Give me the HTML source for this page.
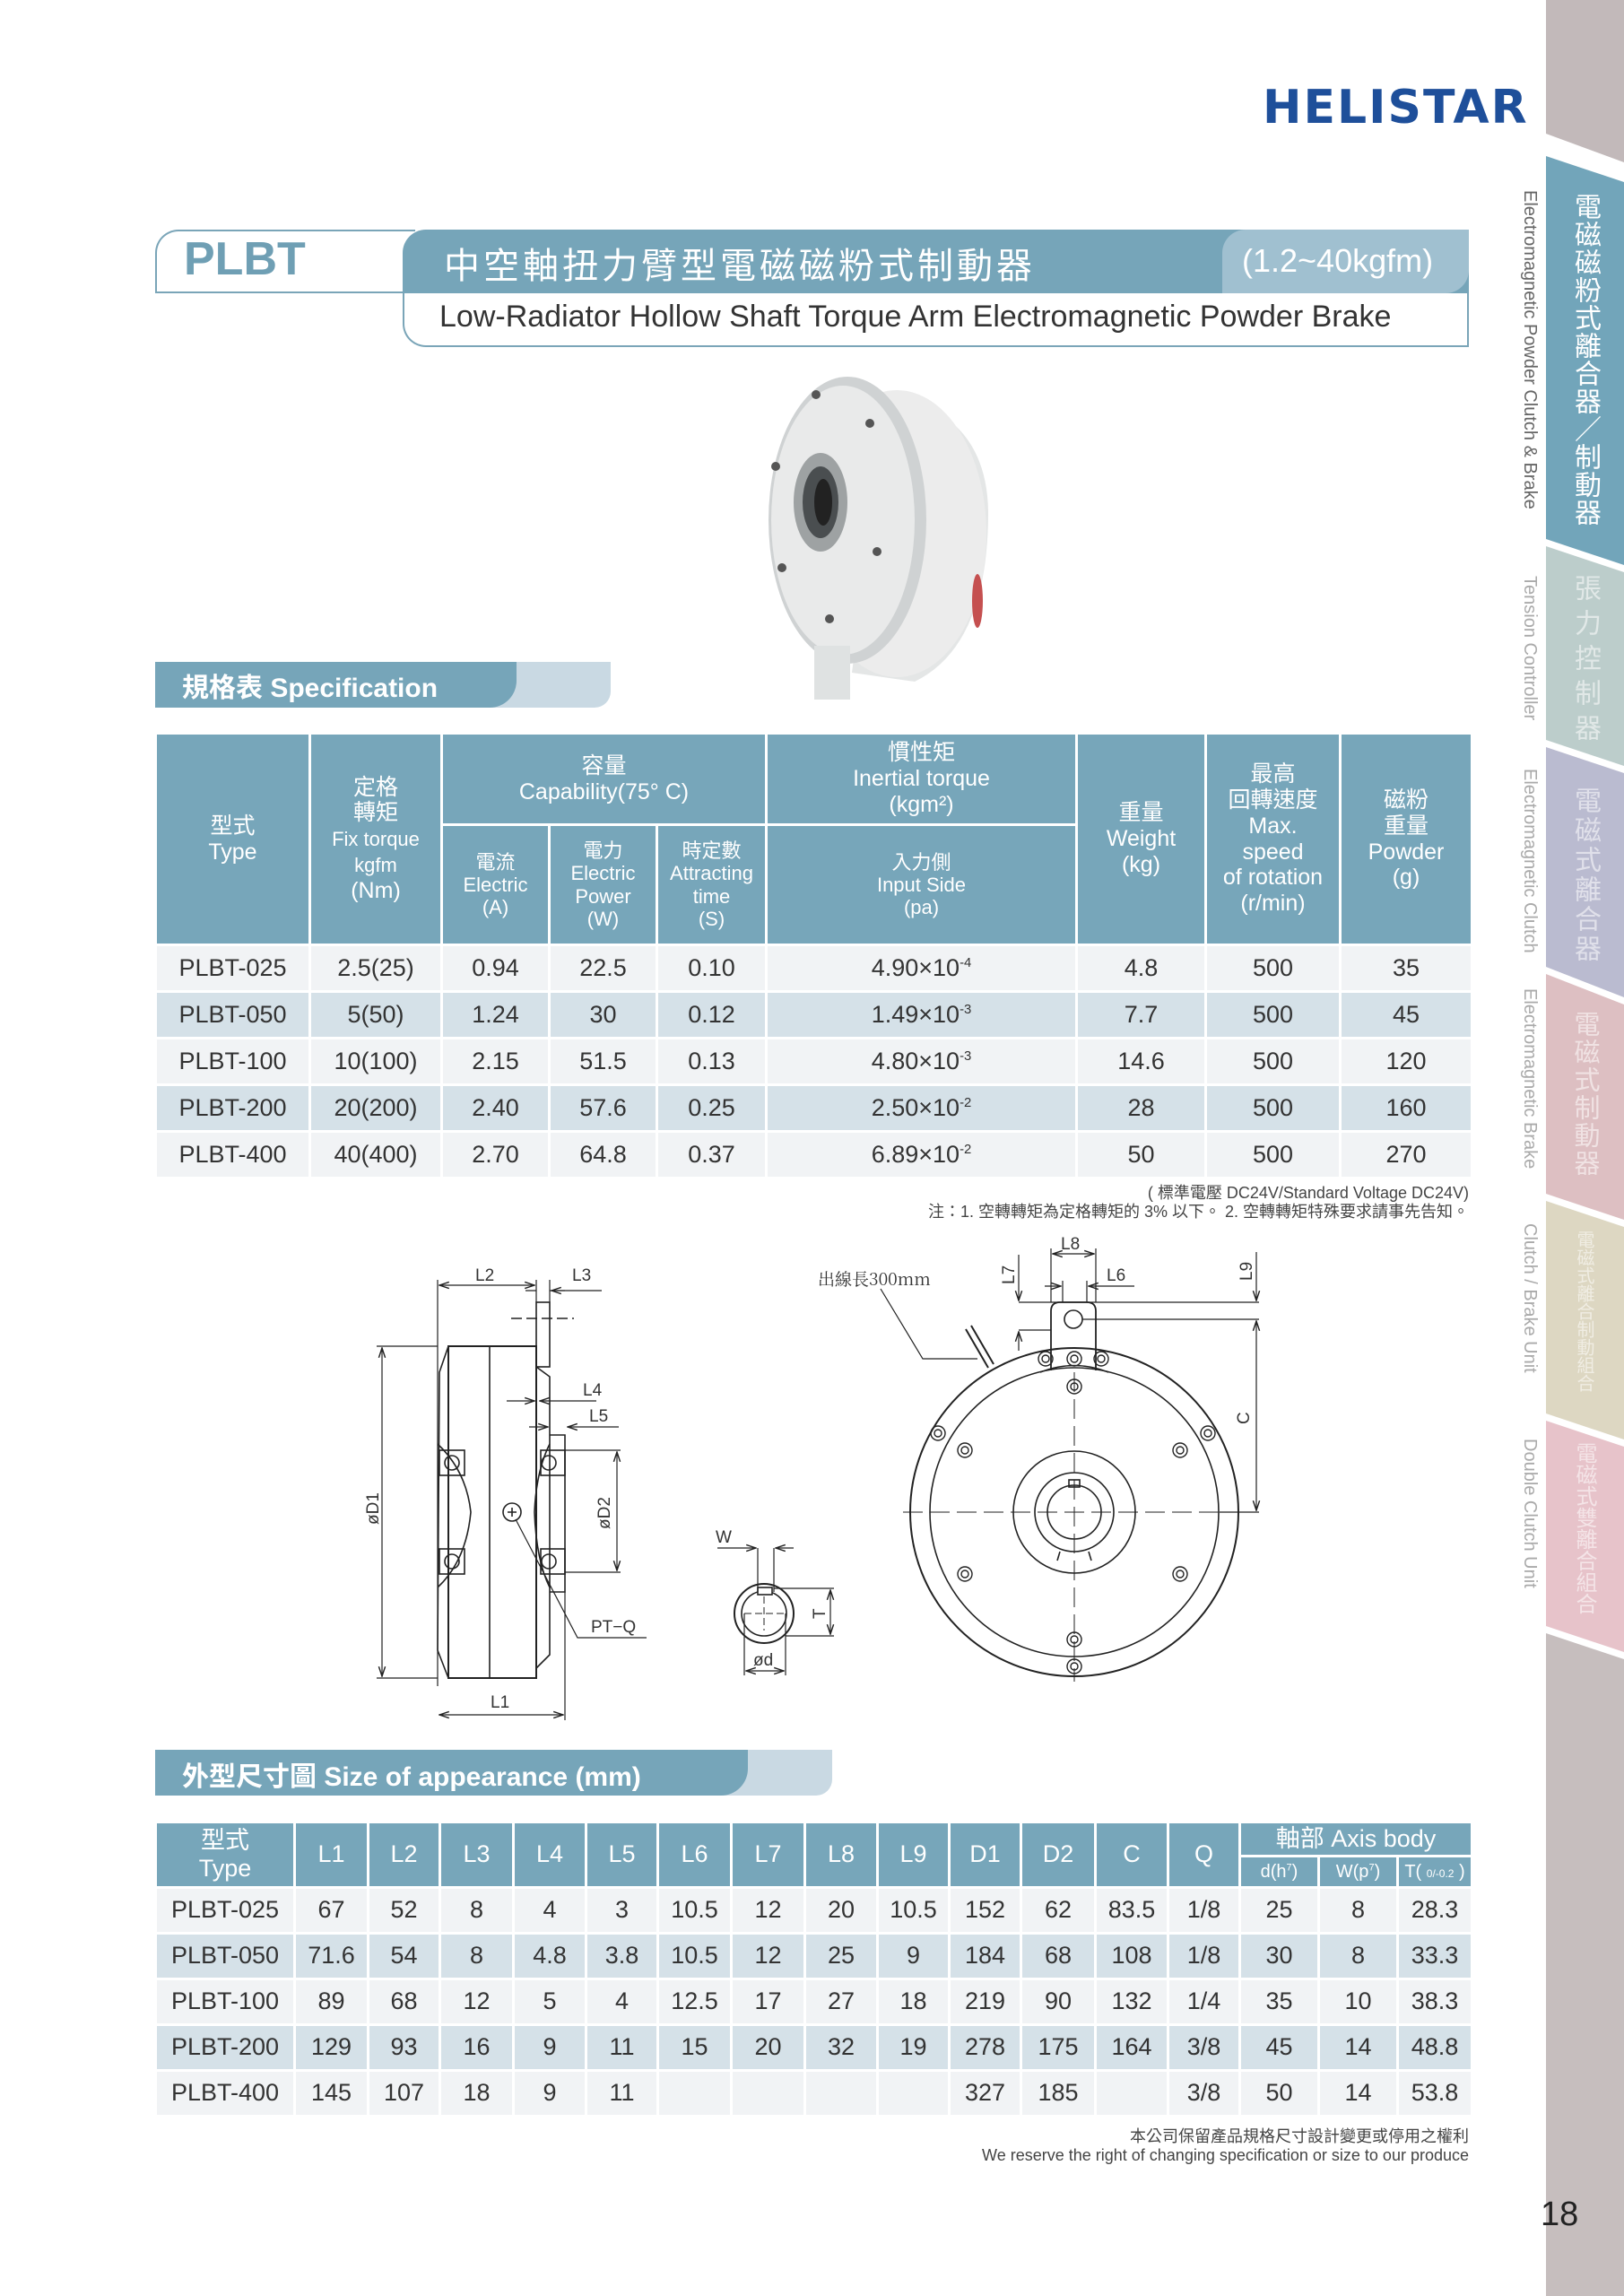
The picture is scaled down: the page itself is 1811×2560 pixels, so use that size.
<!DOCTYPE html>
<html><head><meta charset="utf-8">
<style>
*{margin:0;padding:0;box-sizing:border-box}
body{width:1811px;height:2560px;position:relative;background:#fff;font-family:"Liberation Sans","Noto Sans CJK TC",sans-serif;overflow:hidden;color:#333}
.abs{position:absolute}
table{border-collapse:collapse;table-layout:fixed;position:absolute}
td{border:3px solid #fff;text-align:center;vertical-align:middle;padding:0;line-height:1.15}
.h td{background:#77a6ba;color:#fff}
.r1 td{background:#f1f3f5}
.r2 td{background:#d5e1e8}
.vt{writing-mode:vertical-rl;position:absolute;white-space:nowrap}
sup{font-size:0.55em}
</style></head><body>

<!-- sidebar -->
<svg class="abs" style="left:0;top:0" width="1811" height="2560">
<polygon points="1724,0 1811,0 1811,181 1724,149" fill="#c2b9ba"/>
<polygon points="1724,174 1811,203 1811,630 1724,601" fill="#72a5ba"/>
<polygon points="1724,609 1811,638 1811,854 1724,825" fill="#bccdcb"/>
<polygon points="1724,833 1811,862 1811,1112 1724,1078" fill="#babbd0"/>
<polygon points="1724,1086 1811,1120 1811,1360 1724,1331" fill="#ddbfc2"/>
<polygon points="1724,1339 1811,1368 1811,1605 1724,1576" fill="#ddd7c2"/>
<polygon points="1724,1584 1811,1613 1811,1842 1724,1813" fill="#e7c3ca"/>
<polygon points="1724,1821 1811,1850 1811,2560 1724,2560" fill="#c6bebe"/>
</svg>
<div class="vt" style="left:1750px;top:215px;font-size:30px;color:#fff;line-height:34px;letter-spacing:1px">電磁磁粉式離合器／制動器</div>
<div class="vt" style="left:1750px;top:640px;font-size:30px;color:rgba(255,255,255,.55);line-height:34px;letter-spacing:9px">張力控制器</div>
<div class="vt" style="left:1750px;top:877px;font-size:30px;color:rgba(255,255,255,.55);line-height:34px;letter-spacing:3px">電磁式離合器</div>
<div class="vt" style="left:1750px;top:1127px;font-size:29px;color:rgba(255,255,255,.55);line-height:34px;letter-spacing:2px">電磁式制動器</div>
<div class="vt" style="left:1754px;top:1372px;font-size:20px;color:rgba(255,255,255,.55);line-height:24px">電磁式離合制動組合</div>
<div class="vt" style="left:1752px;top:1608px;font-size:24px;color:rgba(255,255,255,.55);line-height:28px">電磁式雙離合組合</div>

<div class="vt" style="left:1694px;top:212px;font-size:20px;color:#666">Electromagnetic Powder Clutch &amp; Brake</div>
<div class="vt" style="left:1694px;top:642px;font-size:20px;color:#aaa">Tension Controller</div>
<div class="vt" style="left:1694px;top:857px;font-size:20px;color:#aaa">Electromagnetic Clutch</div>
<div class="vt" style="left:1694px;top:1102px;font-size:20px;color:#aaa">Electromagnetic Brake</div>
<div class="vt" style="left:1694px;top:1364px;font-size:20px;color:#aaa">Clutch / Brake Unit</div>
<div class="vt" style="left:1694px;top:1604px;font-size:20px;color:#aaa">Double Clutch Unit</div>

<!-- logo -->
<div class="abs" style="left:1408px;top:90px;font-size:52px;font-weight:900;color:#1e4f9a;letter-spacing:2px;font-family:'DejaVu Sans','Liberation Sans',sans-serif">HELISTAR</div>

<!-- header -->
<div class="abs" style="left:173px;top:256px;width:290px;height:71px;border:2px solid #7aa5b8;border-right:none;border-radius:26px 0 0 0"></div>
<div class="abs" style="left:205px;top:259px;font-size:52px;font-weight:bold;color:#6f9fb4">PLBT</div>
<div class="abs" style="left:449px;top:327px;width:1189px;height:60px;border:2px solid #7aa5b8;border-top:none;border-radius:0 0 0 26px"></div>
<div class="abs" style="left:449px;top:256px;width:1189px;height:71px;background:#76a5b9;border-radius:26px 0 0 0"></div>
<div class="abs" style="left:1363px;top:256px;width:275px;height:71px;background:#a0c0d0;border-radius:26px 0 26px 0"></div>
<div class="abs" style="left:495px;top:264px;font-size:40px;color:#fff;letter-spacing:4px">中空軸扭力臂型電磁磁粉式制動器</div>
<div class="abs" style="left:1385px;top:270px;font-size:36px;color:#fff">(1.2~40kgfm)</div>
<div class="abs" style="left:490px;top:334px;font-size:34px;color:#333">Low-Radiator Hollow Shaft Torque Arm Electromagnetic Powder Brake</div>

<!-- product photo -->
<svg class="abs" style="left:840px;top:390px" width="290" height="400">
<path d="M150 50 Q260 70 262 180 Q262 330 180 370 L110 360 Z" fill="#e4e6e6"/>
<ellipse cx="160" cy="205" rx="100" ry="160" fill="#ececec"/>
<ellipse cx="250" cy="280" rx="6" ry="30" fill="#c55050"/>
<ellipse cx="105" cy="190" rx="88" ry="160" fill="#cfd2d3"/>
<ellipse cx="100" cy="190" rx="80" ry="150" fill="#e9eaea"/>
<ellipse cx="75" cy="170" rx="30" ry="55" fill="#9ea2a3"/>
<ellipse cx="75" cy="170" rx="20" ry="40" fill="#4a4e50"/>
<ellipse cx="78" cy="170" rx="10" ry="26" fill="#222"/>
<circle cx="70" cy="50" r="5" fill="#555"/><circle cx="130" cy="82" r="5" fill="#555"/>
<circle cx="25" cy="130" r="5" fill="#555"/><circle cx="138" cy="225" r="5" fill="#555"/>
<circle cx="32" cy="243" r="5" fill="#555"/><circle cx="85" cy="300" r="5" fill="#555"/>
<rect x="68" y="330" width="40" height="60" fill="#dfe2e2"/>
</svg>

<!-- spec tab -->
<div class="abs" style="left:173px;top:738px;width:508px;height:51px;background:#c9d9e3;border-radius:0 0 18px 0"></div>
<div class="abs" style="left:173px;top:738px;width:403px;height:51px;background:#76a5b9;border-radius:0 0 30px 0"></div>
<div class="abs" style="left:203px;top:742px;font-size:30px;color:#fff;font-weight:bold">規格表 Specification</div>

<!-- spec table -->
<table style="left:172px;top:816px;width:1468px;font-size:25px">
<colgroup><col style="width:172px"><col style="width:147px"><col style="width:120px"><col style="width:120px"><col style="width:122px"><col style="width:346px"><col style="width:144px"><col style="width:150px"><col style="width:147px"></colgroup>
<tr class="h" style="height:102px"><td rowspan="2">型式<br>Type</td><td rowspan="2">定格<br>轉矩<br><span style="font-size:22px">Fix torque<br>kgfm</span><br>(Nm)</td><td colspan="3">容量<br>Capability(75° C)</td><td>慣性矩<br>Inertial torque<br>(kgm²)</td><td rowspan="2">重量<br>Weight<br>(kg)</td><td rowspan="2">最高<br>回轉速度<br>Max.<br>speed<br>of rotation<br>(r/min)</td><td rowspan="2">磁粉<br>重量<br>Powder<br>(g)</td></tr>
<tr class="h" style="height:134px;font-size:22px"><td>電流<br>Electric<br>(A)</td><td>電力<br>Electric<br>Power<br>(W)</td><td>時定數<br>Attracting<br>time<br>(S)</td><td>入力側<br>Input Side<br>(pa)</td></tr>
<tr class="r1" style="height:52px;font-size:27px"><td>PLBT-025</td><td>2.5(25)</td><td>0.94</td><td>22.5</td><td>0.10</td><td>4.90×10<sup>-4</sup></td><td>4.8</td><td>500</td><td>35</td></tr>
<tr class="r2" style="height:52px;font-size:27px"><td>PLBT-050</td><td>5(50)</td><td>1.24</td><td>30</td><td>0.12</td><td>1.49×10<sup>-3</sup></td><td>7.7</td><td>500</td><td>45</td></tr>
<tr class="r1" style="height:52px;font-size:27px"><td>PLBT-100</td><td>10(100)</td><td>2.15</td><td>51.5</td><td>0.13</td><td>4.80×10<sup>-3</sup></td><td>14.6</td><td>500</td><td>120</td></tr>
<tr class="r2" style="height:52px;font-size:27px"><td>PLBT-200</td><td>20(200)</td><td>2.40</td><td>57.6</td><td>0.25</td><td>2.50×10<sup>-2</sup></td><td>28</td><td>500</td><td>160</td></tr>
<tr class="r1" style="height:52px;font-size:27px"><td>PLBT-400</td><td>40(400)</td><td>2.70</td><td>64.8</td><td>0.37</td><td>6.89×10<sup>-2</sup></td><td>50</td><td>500</td><td>270</td></tr>
</table>
<div class="abs" style="right:173px;top:1320px;font-size:18px;color:#444;text-align:right;line-height:21px">( 標準電壓 DC24V/Standard Voltage DC24V)<br>注：1. 空轉轉矩為定格轉矩的 3% 以下。 2. 空轉轉矩特殊要求請事先告知。</div>

<!-- drawings -->
<svg class="abs" style="left:0;top:0" width="1700" height="1930" font-family="Liberation Sans, sans-serif" font-size="19" fill="none" stroke="#222" stroke-width="1.6">
<defs><marker id="a" markerWidth="10" markerHeight="8" refX="9" refY="4" orient="auto-start-reverse"><path d="M0,1 L9,4 L0,7" fill="none" stroke="#222" stroke-width="1.2"/></marker></defs>
<rect x="500" y="1501" width="98" height="370" stroke-width="2"/>
<line x1="546" y1="1501" x2="546" y2="1871"/>
<path d="M500 1501 L490 1530 L488 1840 L500 1871" />
<path d="M598 1524 L613 1535 L613 1845 L598 1860"/>
<path d="M613 1600 L630 1600 L630 1775 L613 1775"/>
<rect x="598" y="1452" width="15" height="72"/>
<line x1="570" y1="1470" x2="640" y2="1470" stroke-dasharray="12,5"/>
<path d="M488 1610 Q520 1640 525 1686 Q520 1740 488 1770"/>
<path d="M613 1610 Q598 1640 596 1686 Q598 1740 613 1770"/>
<rect x="490" y="1617" width="28" height="28"/><circle cx="504" cy="1631" r="8"/>
<rect x="490" y="1727" width="28" height="28"/><circle cx="504" cy="1741" r="8"/>
<rect x="603" y="1617" width="27" height="28"/><circle cx="612" cy="1631" r="8"/>
<rect x="603" y="1727" width="27" height="28"/><circle cx="612" cy="1741" r="8"/>
<circle cx="571" cy="1686" r="10"/><path d="M566 1686h10M571 1681v10"/>
<line x1="426" y1="1503" x2="426" y2="1869" marker-start="url(#a)" marker-end="url(#a)" stroke-width="1.2"/>
<path d="M420 1501H488M420 1871H488" stroke-width="1.2"/>
<line x1="490" y1="1433" x2="596" y2="1433" marker-start="url(#a)" marker-end="url(#a)" stroke-width="1.2"/>
<path d="M488 1427V1880M598 1427V1452M613 1427V1452" stroke-width="1.2"/>
<path d="M586 1439 L598 1439 M613 1439 L671 1439" stroke-width="1.2"/>
<line x1="630" y1="1439" x2="615" y2="1439" marker-end="url(#a)" stroke-width="1.2"/>
<line x1="565" y1="1562" x2="596" y2="1562" marker-end="url(#a)" stroke-width="1.2"/>
<line x1="665" y1="1562" x2="602" y2="1562" marker-end="url(#a)" stroke-width="1.2"/>
<line x1="590" y1="1591" x2="611" y2="1591" marker-end="url(#a)" stroke-width="1.2"/>
<line x1="690" y1="1591" x2="633" y2="1591" marker-end="url(#a)" stroke-width="1.2"/>
<path d="M630 1617H692M630 1753H692" stroke-width="1.2"/>
<line x1="688" y1="1619" x2="688" y2="1751" marker-start="url(#a)" marker-end="url(#a)" stroke-width="1.2"/>
<line x1="490" y1="1912" x2="628" y2="1912" marker-start="url(#a)" marker-end="url(#a)" stroke-width="1.2"/>
<path d="M630 1775V1918" stroke-width="1.2"/>
<path d="M575 1694 L644 1826 H721" stroke-width="1.2"/>
<circle cx="852" cy="1799" r="33" stroke-width="2"/>
<circle cx="852" cy="1799" r="25"/>
<rect x="845" y="1770" width="16" height="8" fill="#fff"/>
<path d="M830 1799h44M852 1780v38" stroke-dasharray="8,4" stroke-width="1"/>
<path d="M845 1726V1775M863 1726V1775" stroke-width="1.2"/>
<line x1="800" y1="1726" x2="843" y2="1726" marker-end="url(#a)" stroke-width="1.2"/>
<line x1="885" y1="1726" x2="865" y2="1726" marker-end="url(#a)" stroke-width="1.2"/>
<path d="M863 1771H930M876 1824H930" stroke-width="1.2"/>
<line x1="926" y1="1773" x2="926" y2="1822" marker-start="url(#a)" marker-end="url(#a)" stroke-width="1.2"/>
<path d="M830 1799V1868M876 1799V1868" stroke-width="1.2"/>
<line x1="832" y1="1863" x2="874" y2="1863" marker-start="url(#a)" marker-end="url(#a)" stroke-width="1.2"/>
<circle cx="1198" cy="1686" r="183" stroke-width="2"/>
<circle cx="1198" cy="1686" r="161"/>
<circle cx="1198" cy="1686" r="68"/>
<circle cx="1198" cy="1686" r="44"/>
<circle cx="1198" cy="1686" r="30"/>
<rect x="1192" y="1650" width="12" height="8"/>
<path d="M1182 1730 l-3 10 M1214 1730 l3 10"/>
<path d="M1172 1528 V1462 Q1172 1452 1182 1452 H1212 Q1222 1452 1222 1462 V1528" stroke-width="1.8"/>
<path d="M1160 1530 Q1198 1515 1236 1530" />
<circle cx="1197" cy="1471" r="10"/>
<g stroke-width="1.4">
<circle cx="1166" cy="1515" r="8"/><circle cx="1166" cy="1515" r="4"/>
<circle cx="1198" cy="1515" r="8"/><circle cx="1198" cy="1515" r="4"/>
<circle cx="1228" cy="1515" r="8"/><circle cx="1228" cy="1515" r="4"/>
<circle cx="1198" cy="1546" r="8"/><circle cx="1198" cy="1546" r="4"/>
<circle cx="1198" cy="1828" r="8"/><circle cx="1198" cy="1828" r="4"/>
<circle cx="1198" cy="1858" r="8"/><circle cx="1198" cy="1858" r="4"/>
<circle cx="1046" cy="1598" r="8"/><circle cx="1046" cy="1598" r="4"/>
<circle cx="1347" cy="1598" r="8"/><circle cx="1347" cy="1598" r="4"/>
<circle cx="1076" cy="1617" r="8"/><circle cx="1076" cy="1617" r="4"/>
<circle cx="1316" cy="1617" r="8"/><circle cx="1316" cy="1617" r="4"/>
<circle cx="1076" cy="1755" r="8"/><circle cx="1076" cy="1755" r="4"/>
<circle cx="1316" cy="1755" r="8"/><circle cx="1316" cy="1755" r="4"/>
</g>
<path d="M1007 1686H1360M1198 1530V1875" stroke-dasharray="22,8" stroke-width="1"/>
<path d="M1077 1482 L1102 1525 M1083 1478 L1108 1521" stroke-width="2"/>
<path d="M982 1437 L1029 1515 H1090" stroke-width="1.2"/>
<path d="M1172 1392V1452M1222 1392V1452" stroke-width="1.2"/>
<line x1="1174" y1="1398" x2="1220" y2="1398" marker-start="url(#a)" marker-end="url(#a)" stroke-width="1.2"/>
<path d="M1185 1428V1452M1212 1428V1452" stroke-width="1.2"/>
<line x1="1165" y1="1434" x2="1183" y2="1434" marker-end="url(#a)" stroke-width="1.2"/>
<line x1="1265" y1="1434" x2="1214" y2="1434" marker-end="url(#a)" stroke-width="1.2"/>
<path d="M1136 1452H1404M1136 1483H1172M1207 1471H1404" stroke-width="1.2"/>
<line x1="1136" y1="1399" x2="1136" y2="1450" marker-end="url(#a)" stroke-width="1.2"/>
<line x1="1136" y1="1506" x2="1136" y2="1485" marker-end="url(#a)" stroke-width="1.2"/>
<line x1="1401" y1="1396" x2="1401" y2="1450" marker-end="url(#a)" stroke-width="1.2"/>
<line x1="1401" y1="1473" x2="1401" y2="1684" marker-start="url(#a)" marker-end="url(#a)" stroke-width="1.2"/>
<path d="M1360 1686H1404" stroke-width="1.2"/>
<g fill="#333" stroke="none" font-size="19">
<text x="530" y="1428">L2</text><text x="638" y="1428">L3</text>
<text x="650" y="1556">L4</text><text x="657" y="1585">L5</text>
<text x="547" y="1904">L1</text>
<text x="659" y="1820">PT−Q</text>
<text transform="translate(422,1700) rotate(-90)">øD1</text>
<text transform="translate(680,1705) rotate(-90)">øD2</text>
<text x="798" y="1720">W</text>
<text x="840" y="1857">ød</text>
<text transform="translate(920,1805) rotate(-90)">T</text>
<text x="1183" y="1393">L8</text>
<text x="1234" y="1428">L6</text>
<text transform="translate(1131,1432) rotate(-90)">L7</text>
<text transform="translate(1396,1428) rotate(-90)">L9</text>
<text transform="translate(1393,1588) rotate(-90)">C</text>
<text x="912" y="1433" font-family="Noto Serif CJK SC, serif" font-size="19">出線長300mm</text>
</g>
</svg>

<!-- size tab -->
<div class="abs" style="left:173px;top:1951px;width:755px;height:51px;background:#c9d9e3;border-radius:0 0 18px 0"></div>
<div class="abs" style="left:173px;top:1951px;width:661px;height:51px;background:#76a5b9;border-radius:0 0 30px 0"></div>
<div class="abs" style="left:203px;top:1956px;font-size:30px;color:#fff;font-weight:bold">外型尺寸圖 Size of appearance (mm)</div>

<!-- size table -->
<table style="left:172px;top:2030px;width:1468px;font-size:27px">
<colgroup><col style="width:155px"><col style="width:82px"><col style="width:80px"><col style="width:82px"><col style="width:81px"><col style="width:80px"><col style="width:82px"><col style="width:82px"><col style="width:81px"><col style="width:80px"><col style="width:80px"><col style="width:83px"><col style="width:81px"><col style="width:80px"><col style="width:88px"><col style="width:88px"><col style="width:83px"></colgroup>
<tr class="h" style="height:38px"><td rowspan="2">型式<br>Type</td><td rowspan="2">L1</td><td rowspan="2">L2</td><td rowspan="2">L3</td><td rowspan="2">L4</td><td rowspan="2">L5</td><td rowspan="2">L6</td><td rowspan="2">L7</td><td rowspan="2">L8</td><td rowspan="2">L9</td><td rowspan="2">D1</td><td rowspan="2">D2</td><td rowspan="2">C</td><td rowspan="2">Q</td><td colspan="3">軸部 Axis body</td></tr>
<tr class="h" style="height:35px;font-size:20px"><td>d(h<sup>7</sup>)</td><td>W(p<sup>7</sup>)</td><td>T( <span style="font-size:12px">0/-0.2</span> )</td></tr>
<tr class="r1" style="height:51px"><td>PLBT-025</td><td>67</td><td>52</td><td>8</td><td>4</td><td>3</td><td>10.5</td><td>12</td><td>20</td><td>10.5</td><td>152</td><td>62</td><td>83.5</td><td>1/8</td><td>25</td><td>8</td><td>28.3</td></tr>
<tr class="r2" style="height:51px"><td>PLBT-050</td><td>71.6</td><td>54</td><td>8</td><td>4.8</td><td>3.8</td><td>10.5</td><td>12</td><td>25</td><td>9</td><td>184</td><td>68</td><td>108</td><td>1/8</td><td>30</td><td>8</td><td>33.3</td></tr>
<tr class="r1" style="height:51px"><td>PLBT-100</td><td>89</td><td>68</td><td>12</td><td>5</td><td>4</td><td>12.5</td><td>17</td><td>27</td><td>18</td><td>219</td><td>90</td><td>132</td><td>1/4</td><td>35</td><td>10</td><td>38.3</td></tr>
<tr class="r2" style="height:51px"><td>PLBT-200</td><td>129</td><td>93</td><td>16</td><td>9</td><td>11</td><td>15</td><td>20</td><td>32</td><td>19</td><td>278</td><td>175</td><td>164</td><td>3/8</td><td>45</td><td>14</td><td>48.8</td></tr>
<tr class="r1" style="height:51px"><td>PLBT-400</td><td>145</td><td>107</td><td>18</td><td>9</td><td>11</td><td></td><td></td><td></td><td></td><td>327</td><td>185</td><td></td><td>3/8</td><td>50</td><td>14</td><td>53.8</td></tr>
</table>
<div class="abs" style="right:173px;top:2372px;font-size:18px;color:#444;text-align:right;line-height:21px">本公司保留產品規格尺寸設計變更或停用之權利<br>We reserve the right of changing specification or size to our produce</div>

<div class="abs" style="left:1718px;top:2448px;font-size:38px;color:#222">18</div>
</body></html>
